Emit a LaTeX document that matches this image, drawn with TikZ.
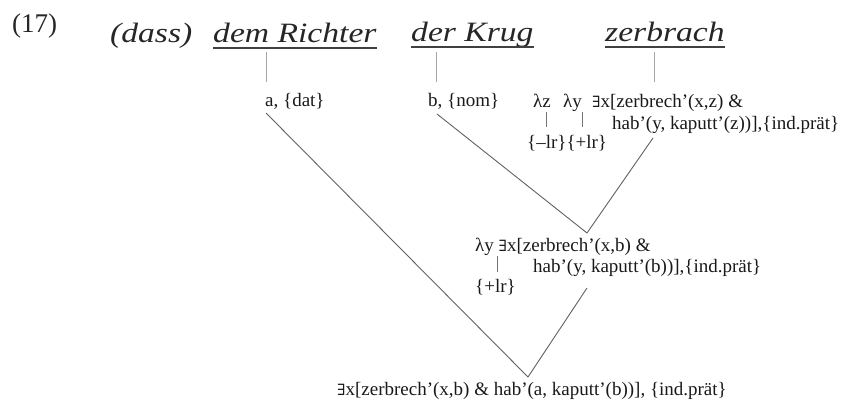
\documentclass[tikz,border=0pt]{standalone}
\usepackage{fontspec}
\setmainfont{Liberation Serif}
\newfontfamily\titlefont[FakeStretch=1.2]{Liberation Serif Italic}
\newfontfamily\symfont{DejaVu Serif}
\newcommand{\ex}{{\symfont\fontsize{15.5}{18}\selectfont ∃}}
\begin{document}
\begin{tikzpicture}[x=1pt,y=-1pt,
  txt/.style={anchor=base west,inner sep=0pt,text=black!90,font=\fontsize{19}{22}\selectfont},
  ttl/.style={anchor=base west,inner sep=0pt,text=black!85,font=\titlefont\fontsize{28}{32}\selectfont},
  num/.style={anchor=base west,inner sep=0pt,text=black!85,font=\fontsize{27}{32}\selectfont},
  uline/.style={draw=black!75,line width=1.6pt},
  stem/.style={draw=black!35,line width=0.8pt},
  bar/.style={draw=black!55,line width=0.8pt},
  branch/.style={draw=black!62,line width=0.9pt}]
\useasboundingbox (0,0) rectangle (841,409);
% title row
\node[num] (n17) at (12,33) {(17)};
\node[ttl] (dass) at (110,43) {(dass)};
\node[ttl] (dR) at (213,43) {dem Richter};
\node[ttl] (dK) at (411,42) {der Krug};
\node[ttl] (zb) at (605,42) {zerbrach};
\foreach \w in {dR,dK,zb}
  \draw[uline] ([yshift=-5pt]\w.base west) -- ([yshift=-5pt]\w.base east);
% lexical entries
\node[txt] (a) at (265,107) {a, \{dat\}};
\node[txt] (b) at (428,107) {b, \{nom\}};
\node[txt] (lz) at (533,108) {λz};
\node[txt] (ly) at (563,108) {λy};
\node[txt] (f1) at (592,108) {\ex x[zerbrech’(x,z) \&};
\node[txt] (f2) at (612,130) {hab’(y, kaputt’(z))],\{ind.prät\}};
\node[txt] (lr) at (527,149) {\{–lr\}\{+lr\}};
% middle
\node[txt] (m1) at (475,251) {λy \ex x[zerbrech’(x,b) \&};
\node[txt] (m2) at (533,272) {hab’(y, kaputt’(b))],\{ind.prät\}};
\node[txt] (mlr) at (475,292) {\{+lr\}};
% bottom
\node[txt] (root) at (337,395) {\ex x[zerbrech’(x,b) \& hab’(a, kaputt’(b))], \{ind.prät\}};
% coordinates
\coordinate (s1t) at (266,52); \coordinate (s1b) at (266,82);
\coordinate (s2t) at (436,52); \coordinate (s2b) at (436,82);
\coordinate (s3t) at (654,52); \coordinate (s3b) at (654,82);
\coordinate (bz1) at (546,112); \coordinate (bz2) at (546,127);
\coordinate (by1) at (582,112); \coordinate (by2) at (582,127);
\coordinate (bm1) at (497,256); \coordinate (bm2) at (497,272);
\coordinate (aS) at (266,113);
\coordinate (bS) at (437,114);
\coordinate (fS) at (653,138);
\coordinate (mTop) at (587,233);
\coordinate (mS) at (587,288);
\coordinate (rTop) at (528,377);
% stems
\draw[stem] (s1t) -- (s1b);
\draw[stem] (s2t) -- (s2b);
\draw[stem] (s3t) -- (s3b);
\draw[bar] (bz1) -- (bz2);
\draw[bar] (by1) -- (by2);
\draw[bar] (bm1) -- (bm2);
% branches
\draw[branch] (bS) -- (mTop) -- (fS);
\draw[branch] (aS) -- (rTop) -- (mS);
\end{tikzpicture}
\end{document}
